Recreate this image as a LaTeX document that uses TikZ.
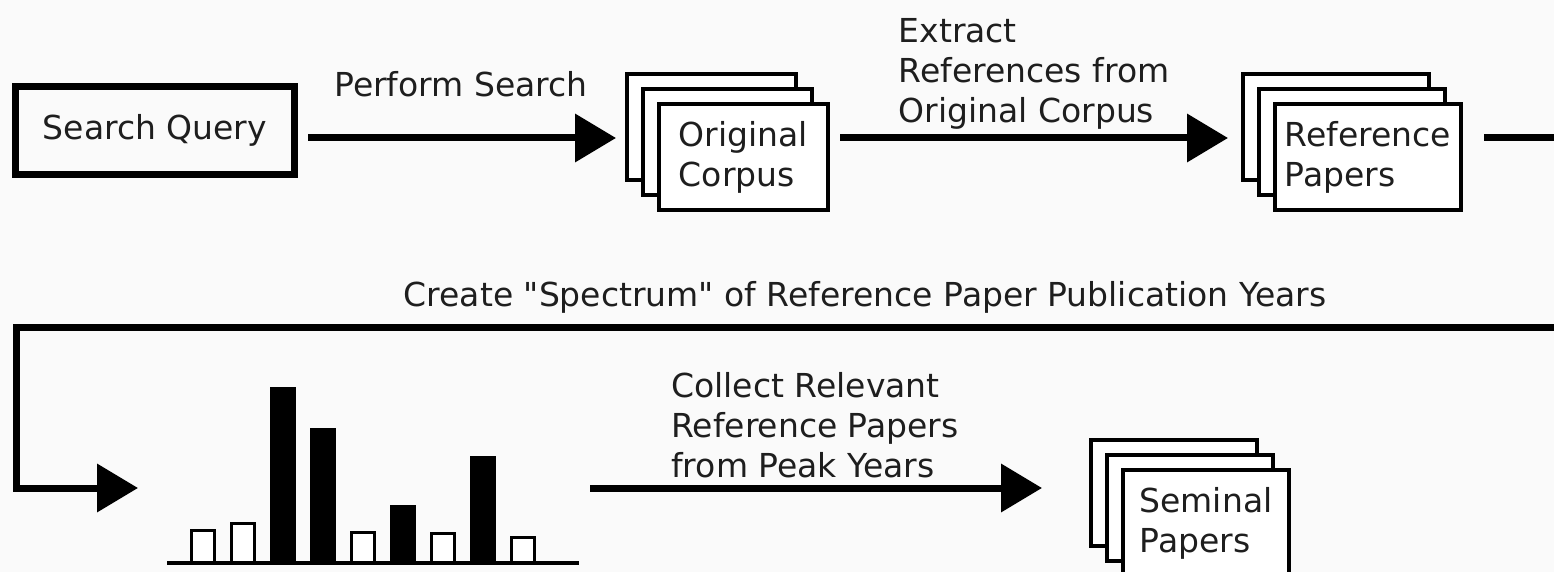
\documentclass[tikz,border=0pt]{standalone}
\usepackage{fontspec}
\setmainfont{DejaVu Sans}[Ligatures=TeXOff]
\usetikzlibrary{positioning, arrows.meta, shadows}

\definecolor{bgcol}{RGB}{250,250,250}
\definecolor{txtcol}{RGB}{30,30,30}

\begin{document}
\begin{tikzpicture}[
          x = 0.5pt, y = -0.5pt,
every node/.style = {font=\fontsize{16.5pt}{20pt}\selectfont, text=txtcol},
      query/.style = {rectangle, draw, line width=3.5pt,
                     minimum width=139.5pt, minimum height=44pt},
      paper/.style = {rectangle, draw, fill=white, line width=2pt,
                     minimum width=#1, minimum height=53pt, align=left,
                     copy shadow={shadow xshift=-16pt, shadow yshift=15pt,
                                  draw=black, fill=white, line width=2pt},
                     copy shadow={shadow xshift=-8pt, shadow yshift=7.5pt,
                                  draw=black, fill=white, line width=2pt}},
        lbl/.style = {inner sep=0pt, align=left},
       flow/.style = {line width=3.5pt, -{Triangle[length=20.5pt, width=23.5pt]}},
        bar/.style = {draw, line width=1.5pt}
                        ]
\fill[bgcol] (0,0) rectangle (1554,572);
\useasboundingbox (0,0) rectangle (1554,572);
\coordinate (row1) at (0,138);
\coordinate (specin) at (138,488);
\coordinate (specout) at (590,488);
% top row
\node (search) [query] at (155,130.5) {Search Query};
\node (orig) [paper=84.5pt] at (743.5,157) {Original\\Corpus};
\node (ref) [paper=93pt] at (1368,157) {Reference\\Papers};
\draw[flow, shorten <=5pt, shorten >=20.5pt] (search.east |- row1) -- (orig.west |- row1);
\draw[flow, shorten <=5pt, shorten >=22.5pt] (orig.east |- row1) -- (ref.west |- row1);
\node (lblsearch) [lbl, anchor=base] at (461,97) {Perform Search};
\node (lblextract) [lbl, anchor=north] at (1034,18) {Extract\\References from\\Original Corpus};
% wrap round to the second row
\draw[flow, line join=miter, shorten <=10.5pt] (ref.east |- row1) -- (1620,138) |- (16,328) |- (specin);
\node (lblspectrum) [lbl, anchor=base] at (865,307) {Create "Spectrum" of Reference Paper Publication Years};
% spectrum of years
\foreach \barh/\col [count=\i from 0] in {529/white, 522/white, 387/black, 428/black,
                                          531/white, 505/black, 532/white, 456/black, 536/white}
  \draw[bar, fill=\col] (191.5+40*\i,563) rectangle (214.5+40*\i,\barh+1.5);
\draw[line width=2pt] (167,563) -- (579,563);
% bottom row
\node (sem) [paper=83pt] at (1206,523) {Seminal\\Papers};
\draw[flow, shorten >=39.5pt] (specout) -- (specout -| sem.west);
\node (lblcollect) [lbl, anchor=north] at (815,372) {Collect Relevant\\Reference Papers\\from Peak Years};
\end{tikzpicture}
\end{document}
